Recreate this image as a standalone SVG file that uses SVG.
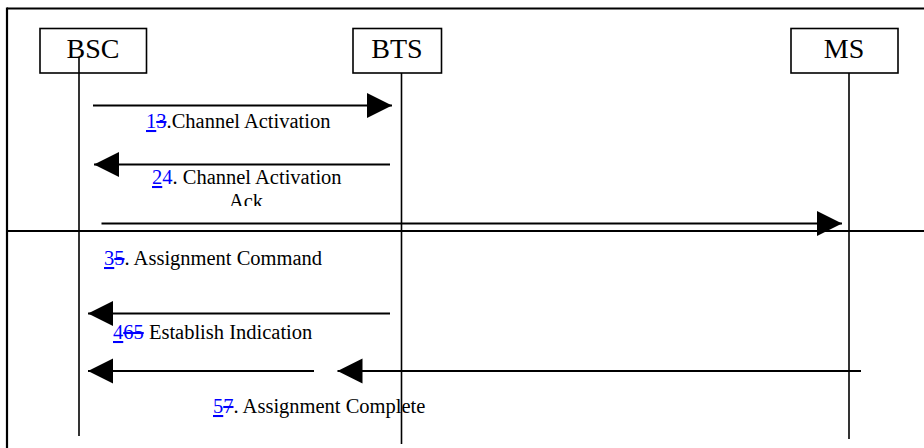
<svg xmlns="http://www.w3.org/2000/svg" width="924" height="448" viewBox="0 0 924 448">
<style>
.frame{stroke:#000;stroke-width:2.2;fill:none}
.box{fill:#fff;stroke:#000;stroke-width:1.6}
.life{stroke:#000;stroke-width:1.6;fill:none}
.msg{stroke:#000;stroke-width:2;fill:none}
.title{font-size:28px;fill:#000;text-anchor:middle}
.lbl{font-size:20.5px;fill:#000}
.ins{fill:#0000ff;text-decoration:underline}
.del{fill:#0000ff;text-decoration:line-through}
.rev{fill:#0000ff}
</style>
<defs>
<marker id="head" markerUnits="userSpaceOnUse" markerWidth="26" markerHeight="26" refX="25" refY="12.5" orient="auto">
<path d="M0,0 L25,12.5 L0,25 Z" fill="#000"/>
</marker>
<clipPath id="ackclip"><rect x="0" y="180" width="924" height="26"/></clipPath>
</defs>
<rect width="924" height="448" fill="#fff"/>
<g id="frame">
<line class="frame" x1="7" y1="8.5" x2="924" y2="8.5"/>
<line class="frame" x1="7" y1="7.5" x2="7" y2="448"/>
<line class="frame" x1="7" y1="231" x2="924" y2="231"/>
</g>
<g id="lifelines">
<line class="life" x1="79" y1="57" x2="79" y2="436"/>
<line class="life" x1="401.5" y1="73" x2="401.5" y2="444"/>
<line class="life" x1="849" y1="73" x2="849" y2="439"/>
</g>
<g font-family="Liberation Serif, Times New Roman, DejaVu Serif, serif">
<g id="BSC">
<rect class="box" x="40" y="28.5" width="106.5" height="44.5"/>
<text class="title" x="93" y="58">BSC</text>
<line class="life" x1="79" y1="57" x2="79" y2="73"/>
</g>
<g id="BTS">
<rect class="box" x="353" y="28.5" width="88.5" height="44.5"/>
<text class="title" x="397" y="58">BTS</text>
</g>
<g id="MS">
<rect class="box" x="791" y="28.5" width="107" height="44.5"/>
<text class="title" x="844" y="58">MS</text>
</g>
<g id="connectors">
<line class="msg" x1="93" y1="105.5" x2="392" y2="105.5" marker-end="url(#head)"/>
<line class="msg" x1="390" y1="164.5" x2="94" y2="164.5" marker-end="url(#head)"/>
<line class="msg" x1="101.5" y1="223.5" x2="842" y2="223.5" marker-end="url(#head)"/>
<line class="msg" x1="390" y1="313.5" x2="88" y2="313.5" marker-end="url(#head)"/>
<line class="msg" x1="314" y1="371" x2="88" y2="371" marker-end="url(#head)"/>
<line class="msg" x1="861" y1="371" x2="337.5" y2="371" marker-end="url(#head)"/>
</g>
<g id="labels">
<text class="lbl" x="146" y="128"><tspan class="ins">1</tspan><tspan class="del">3</tspan>.Channel Activation</text>
<text class="lbl" x="152" y="184"><tspan class="ins">2</tspan><tspan class="rev">4</tspan>. Channel Activation</text>
<text class="lbl" x="246" y="208" text-anchor="middle" clip-path="url(#ackclip)">Ack</text>
<text class="lbl" x="104" y="265"><tspan class="ins">3</tspan><tspan class="del">5</tspan>. Assignment Command</text>
<text class="lbl" x="113" y="339"><tspan class="ins">4</tspan><tspan class="del">65</tspan> Establish Indication</text>
<text class="lbl" x="213" y="413"><tspan class="ins">5</tspan><tspan class="del">7</tspan>. Assignment Complete</text>
</g>
</g>
</svg>
